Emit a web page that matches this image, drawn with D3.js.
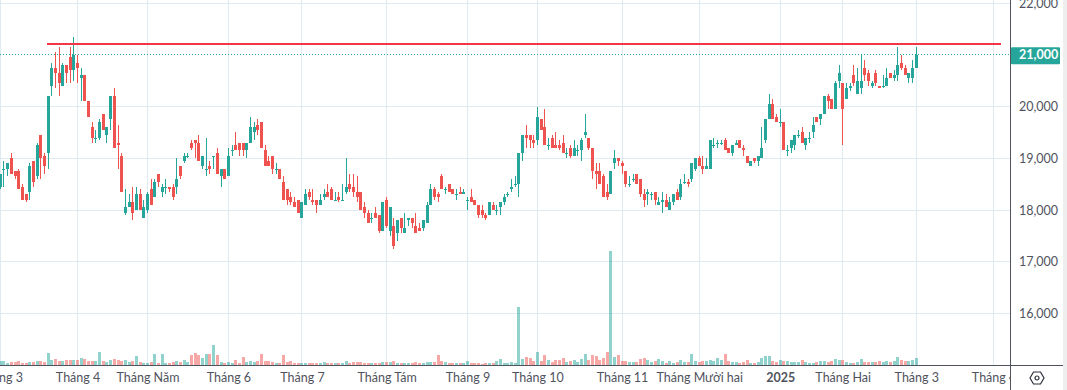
<!DOCTYPE html>
<html>
<head>
<meta charset="utf-8">
<title>Biểu đồ nến</title>
<style>
  html, body { margin: 0; padding: 0; background: #fff; }
  svg { display: block; font-family: Lato, sans-serif; }
</style>
</head>
<body>
<svg width="1067" height="390"></svg>
<script src="https://d3js.org/d3.v7.min.js"></script>
<script>
// [open, high, low, close], one row per session
const candles = [
[18450,18700,18400,18700],[18800,18950,18450,18800],[18800,18900,18650,18900],[19000,19100,18700,18700],[18750,18750,18600,18650],
[18750,18800,18400,18400],[18450,18500,18200,18200],[18300,18300,18150,18200],[18350,18900,18200,18850],[18950,18950,18450,18550],
[18650,19300,18600,19250],[19450,19450,18600,19000],[19050,19100,18700,18850],[19100,20200,18800,20200],[20400,20850,20200,20750],
[20750,21050,20350,20650],[20650,21150,20200,20450],[20400,20850,20400,20800],[20800,20800,20450,20650],[20950,21150,20450,20700],
[20700,21350,20500,21000],[20850,21000,20450,20750],[20550,20750,20100,20600],[20600,20600,20100,20100],[20100,20100,19800,19800],
[19600,19700,19300,19400],[19400,19550,19300,19400],[19400,19750,19350,19700],[19850,19850,19550,19550],[19450,19600,19300,19600],
[19750,20200,19550,20200],[20200,20350,19200,19200],[19300,19650,18800,19250],[19050,19100,18350,18350],[17950,18400,17900,18050],
[18050,18300,18050,18150],[18150,18450,17800,17950],[18000,18450,18000,18300],[18300,18400,18000,18000],[17850,18200,17850,18050],
[18000,18350,17950,18300],[18400,18600,18100,18100],[18250,18600,18250,18550],[18700,18700,18450,18550],[18350,18500,18250,18450],
[18450,18600,18300,18450],[18450,18450,18350,18400],[18450,18500,18200,18250],[18450,19000,18300,18600],[18850,18850,18600,18650],
[18950,19100,18900,19050],[19050,19100,19000,19050],[19300,19350,19150,19200],[19350,19350,19000,19300],[19300,19450,18950,18950],
[18850,19050,18800,19050],[18800,19400,18650,18800],[18850,18950,18700,18800],[19050,19050,18800,19050],[19100,19200,18700,18700],
[18650,18800,18450,18800],[18800,18800,18600,18600],[18650,19200,18650,19050],[19150,19250,19050,19150],[19250,19500,19150,19150],
[19300,19300,19050,19150],[19300,19300,19050,19150],[19150,19300,19000,19300],[19300,19800,19300,19600],[19500,19700,19350,19600],
[19650,19750,19450,19550],[19700,19700,19200,19200],[19150,19250,18850,18850],[18950,19050,18850,18850],[19050,19050,18700,18800],
[18800,18900,18700,18800],[18800,18800,18600,18600],[18550,18650,18200,18200],[18400,18400,18100,18200],[18250,18350,18100,18150],
[18150,18250,18050,18050],[18200,18200,17950,17950],[17850,18150,17850,18150],[18100,18400,18100,18300],[18350,18400,18200,18250],
[18200,18400,18100,18150],[18200,18200,17950,18100],[18100,18300,18100,18200],[18250,18400,18200,18300],[18350,18500,18250,18250],
[18400,18450,18200,18200],[18200,18350,18200,18200],[18250,18350,18150,18200],[18200,18500,18200,18200],[18350,19000,18300,18450],
[18500,18700,18350,18400],[18450,18700,18250,18350],[18350,18650,18150,18250],[18350,18350,18000,18000],[18050,18150,17850,17950],
[17950,18000,17750,17750],[17850,17950,17750,17850],[17950,18050,17850,17850],[17900,17900,17550,17600],[17600,18150,17600,18150],
[18200,18250,17650,17700],[17600,18050,17500,18050],[17700,17850,17250,17300],[17550,17800,17400,17800],[17850,17850,17550,17650],
[17550,17950,17550,17650],[17800,17850,17700,17850],[17850,17850,17650,17750],[17700,17950,17550,17550],[17650,17750,17600,17600],
[17650,17800,17600,17800],[17750,18150,17750,18100],[18100,18500,18100,18400],[18400,18450,18200,18250],[18300,18350,18150,18250],
[18650,18700,18400,18400],[18400,18450,18300,18400],[18500,18500,18350,18350],[18400,18400,18300,18300],[18300,18400,18200,18300],
[18350,18450,18300,18300],[18300,18400,18300,18350],[18200,18250,18000,18200],[18250,18400,18150,18150],[18200,18200,18100,18100],
[18100,18100,17850,17900],[18000,18100,17850,17900],[17900,17950,17800,17850],[17900,18150,17900,18150],[18100,18150,18000,18000],
[18000,18100,17900,18000],[18050,18150,17900,18150],[18150,18300,18100,18250],[18300,18350,18250,18300],[18400,18600,18350,18450],
[18500,18650,18450,18500],[18500,19100,18250,19100],[19100,19450,18950,19450],[19450,19650,19200,19400],[19450,19450,19200,19350],
[19350,19450,19200,19300],[19350,20000,19250,19800],[19750,19750,19550,19550],[19600,19950,19250,19250],[19250,19400,19150,19250],
[19400,19450,19200,19200],[19250,19500,19200,19200],[19250,19350,19150,19200],[19300,19450,19100,19100],[19100,19200,19000,19100],
[19200,19250,19000,19050],[19050,19350,19050,19200],[19150,19250,19050,19150],[19150,19400,18950,19350],[19450,19850,19400,19500],
[19400,19400,19150,19200],[19200,19200,18600,18750],[18750,18900,18400,18700],[18750,18900,18500,18500],[18650,18700,18250,18250],
[18350,18500,18200,18250],[18300,18750,18300,18750],[18900,19150,18800,19000],[19000,19000,18850,18950],[18900,18950,18700,18850],
[18750,18750,18450,18500],[18500,18650,18450,18500],[18600,18700,18550,18600],[18700,18700,18500,18500],[18600,18600,18250,18300],
[18300,18400,18050,18200],[18300,18400,18100,18350],[18300,18350,18200,18300],[18350,18350,18100,18200],[18100,18250,18100,18150],
[18150,18350,17950,18200],[18200,18300,18050,18050],[18000,18250,18000,18150],[18150,18300,18100,18300],[18350,18400,18200,18200],
[18250,18600,18200,18500],[18550,18700,18500,18550],[18550,18600,18450,18500],[18600,18900,18550,18900],[18800,19000,18750,19000],
[19000,19050,18850,18850],[18850,19050,18700,18800],[18800,19000,18800,18850],[18800,19350,18800,19350],[19250,19400,19200,19250],
[19300,19350,19200,19300],[19300,19350,19250,19300],[19350,19400,19150,19150],[19200,19200,19100,19100],[19100,19250,19050,19250],
[19250,19350,19250,19300],[19350,19350,19200,19200],[19200,19250,19050,19150],[19050,19050,18900,18900],[18850,18950,18850,18950],
[19000,19000,18900,18950],[18950,19050,18850,19050],[19000,19600,19000,19200],[19350,19750,19300,19750],[19750,20250,19750,20050],
[20050,20150,19750,19750],[19800,19850,19700,19700],[19700,19950,19600,19700],[19700,19700,19150,19150],[19150,19250,19050,19150],
[19200,19350,19100,19350],[19250,19450,19150,19450],[19450,19550,19400,19450],[19500,19600,19300,19300],[19250,19400,19150,19400],
[19400,19500,19300,19400],[19500,19800,19400,19650],[19800,19800,19700,19700],[19750,19850,19650,19850],[19850,20200,19850,20200],
[20200,20250,19950,20100],[20150,20150,19950,19950],[19950,20500,19950,20450],[20500,20800,20350,20650],[20450,20450,19250,19950],
[20150,20450,20150,20350],[20350,20450,20300,20400],[20600,20800,20400,20450],[20250,20750,20250,20500],[20350,21000,20250,20500],
[20750,20900,20500,20600],[20650,20700,20400,20500],[20400,20500,20350,20450],[20650,20700,20400,20450],[20400,20400,20350,20350],
[20400,20600,20350,20400],[20400,20750,20400,20550],[20650,20650,20550,20550],[20550,20700,20500,20600],[20600,21150,20500,20800],
[20850,21000,20700,20750],[20750,20800,20600,20600],[20550,20650,20450,20650],[20550,20900,20450,20750],[20750,21150,20750,21000]
];

// khối lượng, nghìn cp
const volumes = [
480,480,240,360,360,480,240,240,360,360,
480,480,360,1440,600,720,480,480,600,600,
600,600,840,720,480,480,480,1560,480,360,
600,720,600,480,600,360,480,1080,360,240,
240,360,1320,240,1320,240,240,360,480,360,
600,360,1200,1440,1200,840,1320,1320,2400,1200,
360,240,360,240,600,240,960,360,480,360,
480,1320,480,480,360,240,240,1200,360,480,
240,240,240,240,240,240,240,240,360,240,
240,240,240,240,480,240,360,360,
360,240,240,240,240,240,360,360,360,480,
240,240,240,240,240,360,240,240,360,360,
360,1200,480,360,240,240,240,240,240,480,
240,240,240,120,240,240,240,480,720,240,
240,360,240,6960,720,960,840,480,1560,480,
1200,600,360,600,600,840,360,480,600,360,
720,1320,600,1200,1080,600,840,1560,13680,960,
1200,480,480,360,360,360,720,840,600,360,
480,720,480,240,480,240,360,600,360,360,
1320,480,360,480,480,600,480,840,
600,1320,480,360,360,240,360,600,240,240,
360,840,1080,1080,480,360,600,480,480,360,
360,360,600,360,240,240,360,480,480,360,
480,720,600,600,360,240,240,360,720,360,
360,360,360,480,360,480,360,480,960,600,
480,480,600,840
];

const monthIndex = [0, 21, 40, 62, 82, 105, 127, 146, 169, 190, 212, 229, 249, 270];
const monthLabels = ["Tháng 3", "Tháng 4", "Tháng Năm", "Tháng 6", "Tháng 7", "Tháng Tám", "Tháng 9",
  "Tháng 10", "Tháng 11", "Tháng Mười hai", "2025", "Tháng Hai", "Tháng 3", "Tháng 4"];
const priceTicks = [16000, 17000, 18000, 19000, 20000, 21000, 22000];
const lastPrice = 21000;
const resistance = 21200;
const resistanceFrom = 12.7, resistanceTo = 272.1;

const colorUp = "#26a69a", colorDown = "#ef5350", gridColor = "#e0eaf1", axisColor = "#50535e";
const fontFamily = "Lato, sans-serif";
const width = 1067, height = 390;
const plotRight = 1010, plotBottom = 365, paneRight = 1063;

const svg = d3.select("svg");
const x = d3.scaleLinear().domain([0, candles.length - 1]).range([0.3, 916.3]);
const y = d3.scaleLinear().domain([16000, 22000]).range([313.5, 3]);
const yVol = d3.scaleLinear().domain([0, d3.max(volumes)]).range([plotBottom, 251]);
const px = i => Math.floor(x(i));
const color = d => d[3] >= d[0] ? colorUp : colorDown;

svg.append("clipPath").attr("id", "plot").append("rect")
  .attr("width", plotRight).attr("height", height);

// lưới
const gridV = svg.append("g").attr("shape-rendering", "crispEdges");
gridV.selectAll("line").data(monthIndex).join("line")
  .attr("x1", d => px(d) + 0.5).attr("x2", d => px(d) + 0.5)
  .attr("y1", 0).attr("y2", plotBottom)
  .attr("stroke", gridColor);
const gridH = svg.append("g").attr("shape-rendering", "crispEdges");
gridH.selectAll("line").data(priceTicks.filter(d => d !== lastPrice)).join("line")
  .attr("x1", 0).attr("x2", plotRight)
  .attr("y1", d => Math.floor(y(d)) + 0.5).attr("y2", d => Math.floor(y(d)) + 0.5)
  .attr("stroke", gridColor);

// khối lượng
svg.append("g").attr("shape-rendering", "crispEdges").attr("opacity", 0.5)
  .selectAll("rect").data(volumes).join("rect")
  .attr("x", (d, i) => px(i) - 1)
  .attr("width", 3)
  .attr("y", d => yVol(d))
  .attr("height", d => plotBottom - yVol(d))
  .attr("fill", (d, i) => color(candles[i]));

// đường giá hiện tại
svg.append("line")
  .attr("x1", 0).attr("x2", plotRight)
  .attr("y1", Math.floor(y(lastPrice)) + 0.5).attr("y2", Math.floor(y(lastPrice)) + 0.5)
  .attr("stroke", colorUp).attr("stroke-dasharray", "1 2");

// nến
const candle = svg.append("g").attr("shape-rendering", "crispEdges")
  .selectAll("g").data(candles).join("g").attr("fill", color);
candle.append("rect")
  .attr("x", (d, i) => px(i)).attr("width", 1)
  .attr("y", d => y(d[1])).attr("height", d => Math.max(1, y(d[2]) - y(d[1])));
candle.append("rect")
  .attr("x", (d, i) => px(i) - 1).attr("width", 3)
  .attr("y", d => y(Math.max(d[0], d[3])))
  .attr("height", d => Math.max(1, y(Math.min(d[0], d[3])) - y(Math.max(d[0], d[3]))));

// đường kháng cự
svg.append("line")
  .attr("shape-rendering", "crispEdges")
  .attr("x1", x(resistanceFrom)).attr("x2", x(resistanceTo))
  .attr("y1", y(resistance)).attr("y2", y(resistance))
  .attr("stroke", "#f23645").attr("stroke-width", 2);

// trục thời gian
const timeAxis = d3.axisBottom(x)
  .tickValues(monthIndex)
  .tickFormat((d, i) => monthLabels[i])
  .tickSize(0).tickPadding(8);
const gx = svg.append("g").attr("transform", `translate(0,${plotBottom})`)
  .attr("clip-path", "url(#plot)")
  .call(timeAxis);
gx.select(".domain").remove();
gx.selectAll("text")
  .attr("font-size", 12.5).attr("font-family", fontFamily)
  .attr("fill", axisColor)
  .attr("font-weight", (d, i) => monthLabels[i] === "2025" ? 700 : 400);

// trục giá
const priceAxis = d3.axisRight(y)
  .tickValues(priceTicks)
  .tickFormat(d3.format(","))
  .tickSize(0).tickPadding(9);
const gy = svg.append("g").attr("transform", `translate(${plotRight},0)`).call(priceAxis);
gy.select(".domain").remove();
gy.selectAll("text")
  .attr("font-size", 12.5).attr("font-family", fontFamily)
  .attr("fill", axisColor);
gy.selectAll(".tick").filter(d => d === lastPrice).each(function () {
  d3.select(this).insert("rect", "text")
    .attr("x", 1).attr("y", -8).attr("width", 49).attr("height", 17)
    .attr("rx", 1).attr("fill", colorUp);
  d3.select(this).select("text").attr("fill", "#fff").attr("font-weight", 700);
});

// khung
svg.append("g").attr("shape-rendering", "crispEdges").attr("stroke", axisColor).call(g => {
  g.append("line").attr("x1", plotRight + 0.5).attr("x2", plotRight + 0.5).attr("y1", 0).attr("y2", height);
  g.append("line").attr("x1", 0).attr("x2", paneRight).attr("y1", plotBottom + 0.5).attr("y2", plotBottom + 0.5);
});
svg.append("rect").attr("x", paneRight).attr("y", 0)
  .attr("width", width - paneRight).attr("height", height).attr("fill", "#eeeeee");

// nút cài đặt
const icon = svg.append("g").attr("transform", "translate(1037,378)")
  .attr("fill", "none").attr("stroke", "#2a2e39").attr("stroke-width", 1.2);
icon.append("path").attr("d", d3.line()([[-7, 0], [-3.5, -6], [3.5, -6], [7, 0], [3.5, 6], [-3.5, 6]]) + "Z");
icon.append("circle").attr("r", 2);
</script>
</body>
</html>
